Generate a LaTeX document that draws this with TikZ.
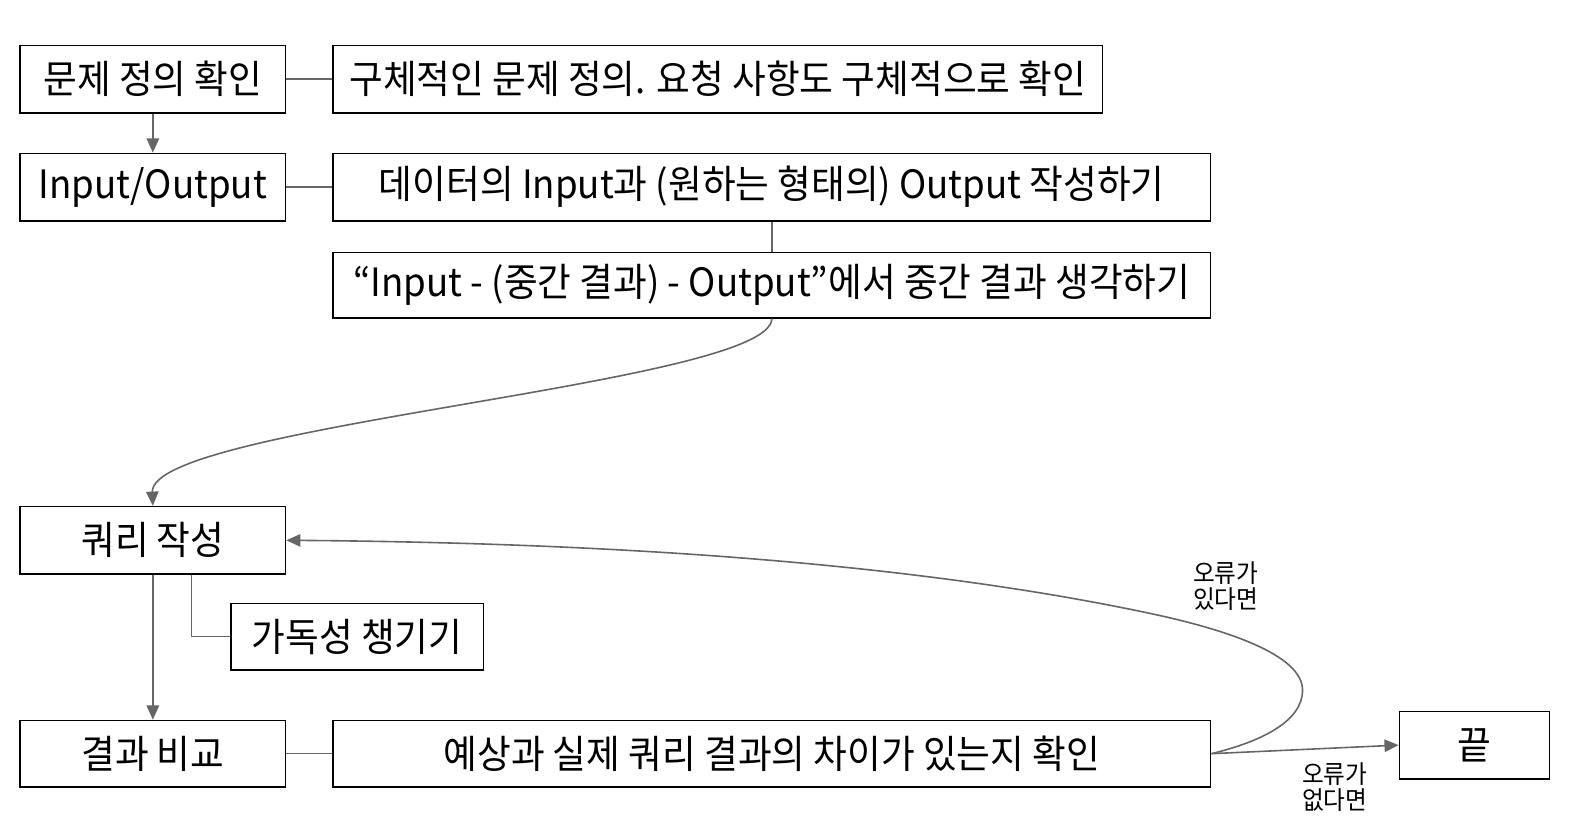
\documentclass[tikz,border=0pt]{standalone}
\usepackage{fontspec}
\setmainfont{Noto Sans CJK KR}[FakeStretch=0.94]
\usepackage{tikz}
\usetikzlibrary{positioning, arrows.meta}
\definecolor{linkgray}{HTML}{666666}

\begin{document}
\begin{tikzpicture}[
  node distance=1.5cm,
  box/.style={rectangle, draw, line width=0.8pt, minimum height=1.34cm, inner sep=0pt, align=center, font=\fontsize{22}{26}\selectfont},
  link/.style={draw=linkgray, line width=0.9pt},
  arrow/.style={link, -{Triangle[length=8pt, width=7pt]}, color=linkgray},
  note/.style={align=center, font=\fontsize{14.2}{14.7}\selectfont}
]
\useasboundingbox (0,0) rectangle (31.36,-16.34);

% Problem definition
\node[box, minimum width=5.26cm] (define) at (3.03,-1.57) {문제 정의 확인};
\node[box, minimum width=15.26cm] (defineinfo) at (14.23,-1.57) {구체적인 문제 정의. 요청 사항도 구체적으로 확인};

% Input / Output
\node[box, minimum width=5.26cm] (io) at (3.03,-3.71) {Input/Output};
\node[box, minimum width=17.4cm] (ioinfo) at (15.30,-3.71) {데이터의 Input과 (원하는 형태의) Output 작성하기};
\node[box, minimum width=17.4cm, minimum height=1.3cm] (middle) at (15.30,-5.65) {“Input - (중간 결과) - Output”에서 중간 결과 생각하기};

% Query
\node[box, minimum width=5.26cm] (query) at (3.03,-10.71) {쿼리 작성};
\node[box, minimum width=5cm, minimum height=1.32cm] (readable) at (7.08,-12.62) {가독성 챙기기};

% Compare
\node[box, minimum width=5.26cm, minimum height=1.32cm] (compare) at (3.03,-14.94) {결과 비교};
\node[box, minimum width=17.4cm, minimum height=1.32cm] (compareinfo) at (15.30,-14.94) {예상과 실제 쿼리 결과의 차이가 있는지 확인};

% End
\node[box, minimum width=2.98cm] (finish) at (29.23,-14.77) {끝};

% Labels
\node[note] (witherr) at (24.30,-11.62) {오류가\\있다면};
\node[note] (noerr) at (26.46,-15.60) {오류가\\없다면};

% Edges
\draw[link] (define) -- (defineinfo);
\draw[arrow] (define) -- (io);
\draw[link] (io) -- (ioinfo);
\draw[link] (ioinfo) -- (middle);
\draw[arrow] (middle.south) .. controls +(0,-1.3) and +(-0.06,1.6) .. (query.north);
\draw[link] ([xshift=0.77cm]query.south) |- (readable.west);
\draw[arrow] (query) -- (compare);
\draw[link] (compare) -- (compareinfo);
\draw[arrow] (compareinfo.east) -- (finish.west);
\draw[arrow] (compareinfo.east) .. controls (25.0,-14.7) and (25.82,-14.3) .. (25.82,-13.68)
  .. controls (25.82,-13.0) and (24.4,-12.5) .. (22.80,-12.16)
  .. controls (18.0,-11.14) and (12.0,-10.76) .. (query.east);

\end{tikzpicture}
\end{document}
